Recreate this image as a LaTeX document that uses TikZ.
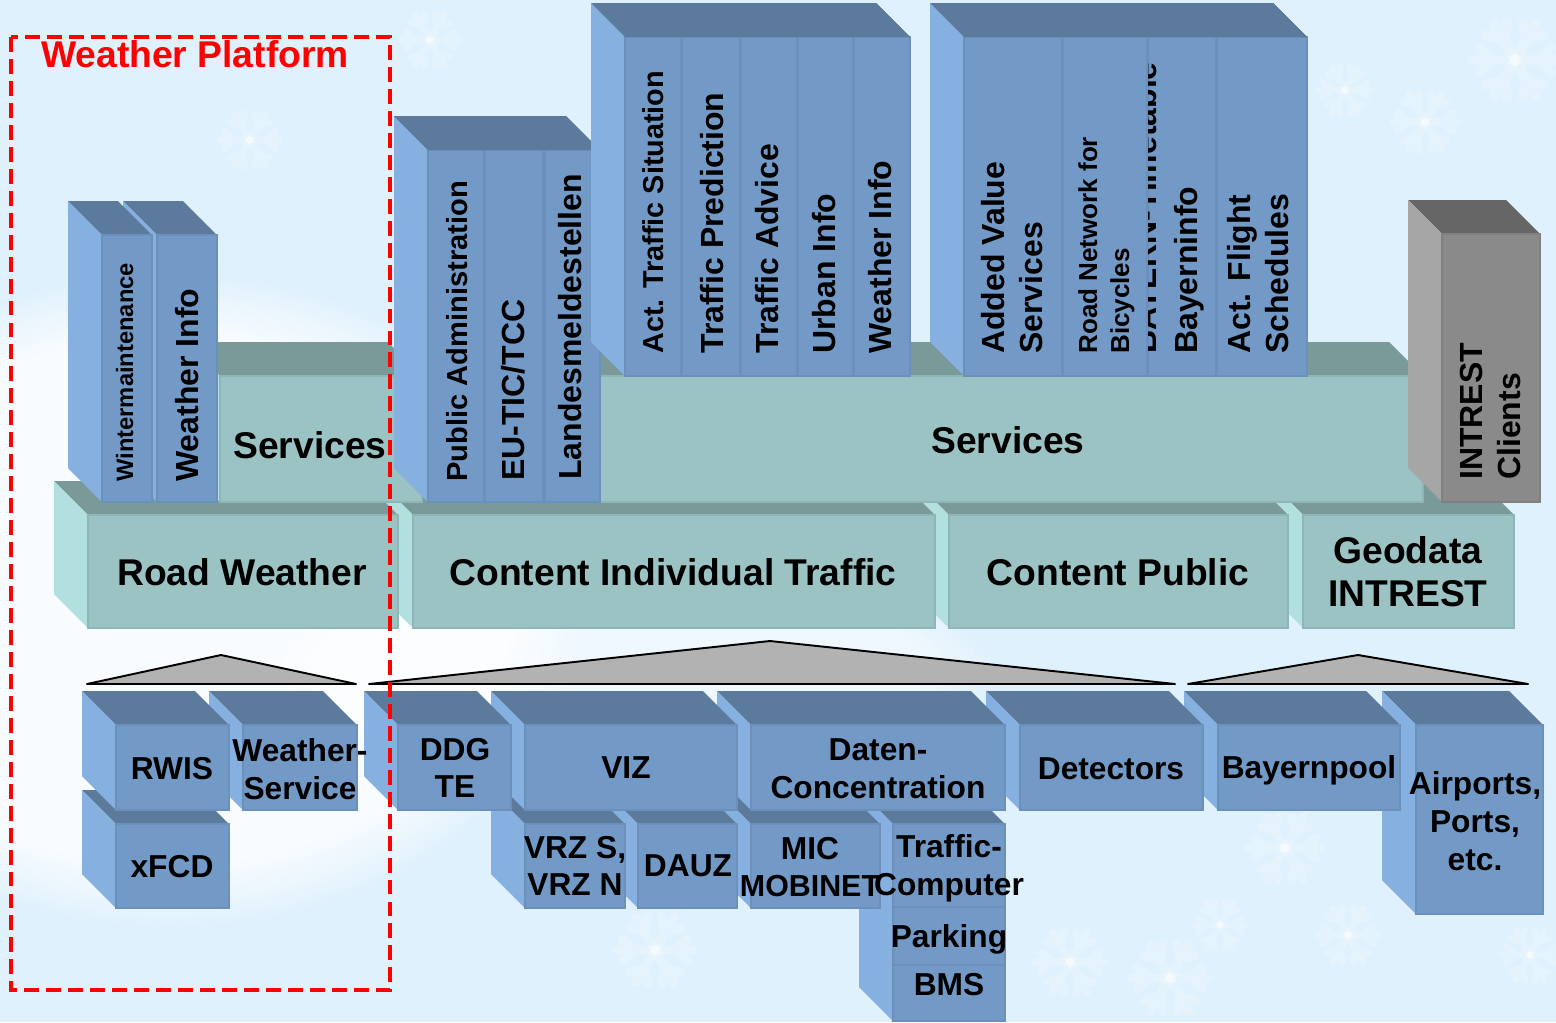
\documentclass[tikz,border=0pt]{standalone}
\usepackage{fontspec}
\setmainfont{Liberation Sans}
\usepackage{xcolor}
\usetikzlibrary{fadings}
\definecolor{bgblue}{HTML}{DFF1FD}
\definecolor{bluetop}{HTML}{5B7A9C}
\definecolor{blueside}{HTML}{85B0E0}
\definecolor{bluefront}{HTML}{7399C6}
\definecolor{blueedge}{HTML}{6B90BC}
\definecolor{tealtop}{HTML}{7A9999}
\definecolor{tealside}{HTML}{B2E0DF}
\definecolor{tealfront}{HTML}{9CC3C3}
\definecolor{tealedge}{HTML}{8FB6B6}
\definecolor{greytop}{HTML}{666666}
\definecolor{greyside}{HTML}{A6A6A6}
\definecolor{greyfront}{HTML}{8A8A8A}
\definecolor{greyedge}{HTML}{808080}
\newcommand{\cube}[5]{
\fill[#1top] ({#2-34},{#3-34}) -- ({#4-34},{#3-34}) -- (#4,#3) -- (#2,#3) -- cycle;
\fill[#1side] ({#2-34},{#3-34}) -- (#2,#3) -- (#2,#5) -- ({#2-34},{#5-34}) -- cycle;
\filldraw[fill=#1front,draw=#1edge,line width=0.6pt] (#2,#3) rectangle (#4,#5);
}
\newcommand{\flake}[3]{
\foreach \a in {0,60,...,300}{
\draw[white,opacity=.2,line width=#3*.14pt,line cap=round,shift={(#1,#2)},rotate=\a]
(0,0) -- (#3,0) ({#3*.55},0) -- ({#3*.85},{#3*.28}) ({#3*.55},0) -- ({#3*.85},{-#3*.28});
}
}
\begin{document}
\begin{tikzpicture}[
  x=0.02cm,y=-0.02cm,
  bigtxt/.style={font=\bfseries\fontsize{21.2}{24.5}\selectfont,align=center,inner sep=0},
  midtxt/.style={font=\bfseries\fontsize{18.05}{21.5}\selectfont,align=center,inner sep=0},
  vtxt/.style={font=\bfseries\fontsize{18.2}{21.5}\selectfont,rotate=90,anchor=base west,align=left,inner sep=0},
  wedge/.style={fill=black!30,draw=black,line width=1.1pt,line join=round}
]
\useasboundingbox (0,0) rectangle (1556,1022);
\fill[bgblue] (0,0) rectangle (1556,1022);
\fill[white,opacity=.8,path fading=circle with fuzzy edge 20 percent] (170,600) ellipse (420 and 330);
\fill[white,opacity=.5,path fading=circle with fuzzy edge 20 percent] (620,670) ellipse (380 and 110);
\flake{430}{40}{28}
\flake{1425}{122}{32}
\flake{1515}{60}{42}
\flake{1345}{90}{26}
\flake{1220}{925}{26}
\flake{1170}{978}{38}
\flake{1070}{962}{34}
\flake{1348}{935}{30}
\flake{1285}{848}{36}
\flake{655}{950}{38}
\flake{1530}{955}{28}
\flake{250}{140}{30}
\cube{teal}{1303}{515}{1514}{628}
\cube{teal}{949}{515}{1288}{628}
\cube{teal}{413}{515}{935}{628}
\cube{teal}{88}{515}{398}{628}
\cube{teal}{590}{376}{1423}{502}
\cube{teal}{220}{376}{422}{502}
\cube{blue}{157}{235}{217}{502}
\cube{blue}{102}{235}{152}{502}
\cube{blue}{545}{150}{600}{502}
\cube{blue}{485}{150}{543}{502}
\cube{blue}{428}{150}{484}{502}
\fill[bluetop] (394,116) -- (566,116) -- (600,150) -- (428,150) -- cycle;
\cube{blue}{854}{37}{910}{376}
\cube{blue}{798}{37}{853}{376}
\cube{blue}{741}{37}{797}{376}
\cube{blue}{682}{37}{740}{376}
\cube{blue}{625}{37}{681}{376}
\fill[bluetop] (591,3) -- (876,3) -- (910,37) -- (625,37) -- cycle;
\cube{blue}{1217}{37}{1307}{376}
\cube{blue}{1148}{37}{1216}{376}
\begin{scope}
\clip (1148,37) rectangle (1216,376);
\node[vtxt] (bayerninfo) at (1197,354) {BAYERN-Timetable\\[1.5pt]Bayerninfo};
\end{scope}
\cube{blue}{1063}{37}{1147}{376}
\cube{blue}{964}{37}{1062}{376}
\fill[bluetop] (930,3) -- (1273,3) -- (1307,37) -- (964,37) -- cycle;
\cube{grey}{1442}{234}{1540}{502}
\draw[wedge] (87,684) -- (221,655) -- (356,684) -- cycle;
\draw[wedge] (369,684) -- (770,641) -- (1175,684) -- cycle;
\draw[wedge] (1188,684) -- (1358,655) -- (1528,684) -- cycle;
\cube{blue}{893}{824}{1005}{1021}
\draw[blueedge,line width=0.8pt] (893,907) -- (1005,907) (893,965) -- (1005,965);
\cube{blue}{751}{824}{880}{908}
\cube{blue}{638}{824}{737}{908}
\cube{blue}{525}{824}{625}{908}
\cube{blue}{116}{824}{229}{908}
\cube{blue}{1416}{725}{1543}{914}
\cube{blue}{1218}{725}{1400}{810}
\cube{blue}{1020}{725}{1203}{810}
\cube{blue}{751}{725}{1005}{810}
\cube{blue}{525}{725}{737}{810}
\cube{blue}{398}{725}{511}{810}
\cube{blue}{243}{725}{357}{810}
\cube{blue}{116}{725}{229}{810}
\node[bigtxt] (servicesa) at (310,445) {Services};
\node[bigtxt] (servicesb) at (1008,440) {Services};
\node[bigtxt] (road) at (242,572) {Road Weather};
\node[bigtxt] (individual) at (673,572) {Content Individual Traffic};
\node[bigtxt] (public) at (1118,572) {Content Public};
\node[bigtxt] (geodata) at (1408,572) {Geodata\\INTREST};
\node[vtxt,font=\bfseries\fontsize{13.5}{16}\selectfont] (winter) at (133,482) {Wintermaintenance};
\node[vtxt] (weathera) at (198,482) {Weather Info};
\node[vtxt,font=\bfseries\fontsize{16.55}{21}\selectfont] (admin) at (467,482) {Public Administration};
\node[vtxt] (eutic) at (524,481) {EU-TIC/TCC};
\node[vtxt] (landes) at (581,480) {Landesmeldestellen};
\node[vtxt,font=\bfseries\fontsize{16.4}{20}\selectfont] (situation) at (663,354) {Act. Traffic Situation};
\node[vtxt] (prediction) at (723,354) {Traffic Prediction};
\node[vtxt] (advice) at (778,354) {Traffic Advice};
\node[vtxt] (urban) at (835,354) {Urban Info};
\node[vtxt] (weatherb) at (891,354) {Weather Info};
\node[vtxt] (added) at (1042,354) {Added Value\\Services};
\node[vtxt,font=\bfseries\fontsize{14.8}{18.1}\selectfont] (bicycles) at (1129,354) {Road Network for\\Bicycles};
\node[vtxt] (flight) at (1288,354) {Act. Flight\\Schedules};
\node[vtxt] (clients) at (1520,480) {INTREST\\Clients};
\node[midtxt] (rwis) at (172,769) {RWIS};
\node[midtxt] (xfcd) at (172,867) {xFCD};
\node[midtxt] (weatherservice) at (300,769) {Weather-\\Service};
\node[midtxt] (ddg) at (455,768) {DDG\\TE};
\node[midtxt] (viz) at (626,768) {VIZ};
\node[midtxt] (daten) at (878,769) {Daten-\\Concentration};
\node[midtxt] (detectors) at (1111,769) {Detectors};
\node[midtxt] (bayernpool) at (1309,770) {Bayernpool};
\node[midtxt] (airports) at (1475,821) {Airports,\\Ports,\\etc.};
\node[midtxt] (vrz) at (575,866) {VRZ S,\\VRZ N};
\node[midtxt] (dauz) at (688,866) {DAUZ};
\node[midtxt] (mic) at (810,867) {MIC\\{\fontsize{17.3}{21.5}\selectfont MOBINET}};
\node[midtxt] (computer) at (949,868) {Traffic-\\Computer};
\node[midtxt] (parking) at (949,939) {Parking};
\node[midtxt] (bms) at (949,985) {BMS};
\draw[red,line width=2pt,dash pattern=on 8.5pt off 4pt] (11,37) rectangle (390,990);
\node[bigtxt,text=red] (platform) at (195,54) {Weather Platform};
\end{tikzpicture}
\end{document}
